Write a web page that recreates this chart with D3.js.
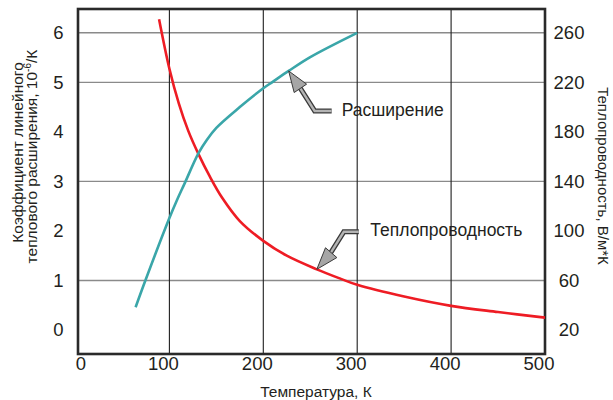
<!DOCTYPE html>
<html>
<head>
<meta charset="utf-8">
<script src="https://cdn.jsdelivr.net/npm/d3@7"></script>
<style>
  html, body { margin: 0; padding: 0; background: #fff; }
  svg { display: block; }
  text { font-family: "Liberation Sans", Arial, Helvetica, sans-serif; fill: #231f20; }
</style>
</head>
<body>
<script>
// ---- data ----
const xTicks = [0, 100, 200, 300, 400, 500];
const leftTicks = [0, 1, 2, 3, 4, 5, 6];
const rightTicks = [20, 60, 100, 140, 180, 220, 260];
const gridXValues = [100, 200, 300, 400];
const gridYValues = [1, 3, 5, 6];

// expansion coefficient, 10^-6/K (left axis)
const expT = [64, 75, 100, 108, 116, 131, 140, 150, 175, 200, 210, 227, 250, 300];
const expV = [0.46, 1.03, 2.26, 2.62, 2.95, 3.57, 3.84, 4.08, 4.50, 4.88, 5.01, 5.23, 5.51, 6.0];

// thermal conductivity, W/m*K (right axis)
const condT = [89, 100, 110, 120, 131, 143, 156, 175, 200, 225, 257, 282, 300, 350, 400, 450, 500];
const condK = [271, 231, 203, 181, 162, 144, 127, 108, 92, 80, 69, 61.5, 56.5, 47, 39.5, 34.5, 30];

const xTitle = "Температура, К";
const leftTitle1 = "Коэффициент линейного";
const leftTitle2 = "теплового расширения, 10";
const leftTitleSup = "-6";
const leftTitleEnd = "/К";
const rightTitle = "Теплопроводность, В/м*К";
const expLabel = "Расширение";
const condLabel = "Теплопроводность";
const expArrowAt = 227;
const condArrowAt = 257;

// ---- layout ----
const W = 613, H = 400;
const frame = { left: 78, right: 545, top: 9, bottom: 354 };

const svg = d3.select("body").append("svg").attr("width", W).attr("height", H);

const x = d3.scaleLinear().domain([0, 500]).range([75.5, 545]);
const yL = d3.scaleLinear().domain([0, 6]).range([330, 32.8]);
const yR = d3.scaleLinear().domain([20, 260]).range([330, 32.8]);

// grid
svg.append("g").selectAll("line").data(gridYValues).join("line")
  .attr("x1", frame.left).attr("x2", frame.right)
  .attr("y1", d => yL(d)).attr("y2", d => yL(d))
  .attr("stroke", "#8a8a8a").attr("stroke-width", 1.4);

svg.append("g").selectAll("line").data(gridXValues).join("line")
  .attr("x1", d => x(d)).attr("x2", d => x(d))
  .attr("y1", frame.top).attr("y2", frame.bottom)
  .attr("stroke", "#1e1e1e").attr("stroke-width", 1.1);

// frame
svg.append("rect")
  .attr("x", frame.left).attr("y", frame.top)
  .attr("width", frame.right - frame.left).attr("height", frame.bottom - frame.top)
  .attr("fill", "none").attr("stroke", "#2a2a2a").attr("stroke-width", 2.6);

// tick labels
svg.append("g").selectAll("text").data(xTicks).join("text")
  .attr("x", d => Math.max(x(d) - 6, frame.left + 3))
  .attr("y", 364).attr("dy", "0.35em")
  .attr("text-anchor", "middle").attr("font-size", 18.5)
  .text(d => d);

svg.append("g").selectAll("text").data(leftTicks).join("text")
  .attr("x", 58.5).attr("y", d => yL(d)).attr("dy", "0.35em")
  .attr("text-anchor", "middle").attr("font-size", 18.5)
  .text(d => d);

svg.append("g").selectAll("text").data(rightTicks).join("text")
  .attr("x", 569).attr("y", d => yR(d)).attr("dy", "0.35em")
  .attr("text-anchor", "middle").attr("font-size", 18.5)
  .text(d => d);

// axis titles
svg.append("text").attr("x", 316).attr("y", 396.5)
  .attr("text-anchor", "middle").attr("font-size", 15.5).text(xTitle);

svg.append("text")
  .attr("transform", "translate(23,152.5) rotate(-90)")
  .attr("text-anchor", "middle").attr("font-size", 15.5).text(leftTitle1);

const lt2 = svg.append("text")
  .attr("transform", "translate(36.5,156.5) rotate(-90)")
  .attr("text-anchor", "middle").attr("font-size", 15.5);
lt2.append("tspan").text(leftTitle2);
lt2.append("tspan").attr("font-size", 10).attr("dy", "-0.6em").text(leftTitleSup);
lt2.append("tspan").attr("dy", "0.4em").text(leftTitleEnd);

svg.append("text")
  .attr("transform", "translate(598,176) rotate(90)")
  .attr("text-anchor", "middle").attr("font-size", 15).text(rightTitle);

// curves
const lineExp = d3.line().x(d => x(d[0])).y(d => yL(d[1])).curve(d3.curveCatmullRom.alpha(0.5));
const lineCond = d3.line().x(d => x(d[0])).y(d => yR(d[1])).curve(d3.curveCatmullRom.alpha(0.5));

const condPath = svg.append("path").datum(d3.zip(condT, condK))
  .attr("d", lineCond).attr("fill", "none")
  .attr("stroke", "#ee1c24").attr("stroke-width", 2.6);

const expPath = svg.append("path").datum(d3.zip(expT, expV))
  .attr("d", lineExp).attr("fill", "none")
  .attr("stroke", "#3aa6a9").attr("stroke-width", 2.6);

// annotation arrows
function pointOn(path, tx) {
  const node = path.node();
  const len = node.getTotalLength();
  let lo = 0, hi = len;
  const target = x(tx);
  for (let i = 0; i < 40; i++) {
    const mid = (lo + hi) / 2;
    const p = node.getPointAtLength(mid);
    if (p.x < target) lo = mid; else hi = mid;
  }
  return node.getPointAtLength((lo + hi) / 2);
}

function drawArrow(tip, dir, headLen, halfW, shaftPts, labelPos, label) {
  const g = svg.append("g");
  const [dx, dy] = dir;
  const n = Math.hypot(dx, dy);
  const ux = dx / n, uy = dy / n;
  const px = -uy, py = ux;
  const bx = tip.x + ux * headLen, by = tip.y + uy * headLen;
  const shaft = [[bx - ux * 2, by - uy * 2]].concat(shaftPts.map(p => [tip.x + p[0], tip.y + p[1]]));
  const ln = d3.line();
  g.append("path").attr("d", ln(shaft)).attr("fill", "none")
    .attr("stroke", "#3a3a3a").attr("stroke-width", 5).attr("stroke-linejoin", "miter");
  g.append("path").attr("d", ln(shaft)).attr("fill", "none")
    .attr("stroke", "#b4b4b4").attr("stroke-width", 2.4).attr("stroke-linejoin", "miter");
  g.append("polygon")
    .attr("points", [[tip.x, tip.y], [bx + px * halfW, by + py * halfW], [bx - px * halfW, by - py * halfW]].join(" "))
    .attr("fill", "#a6a6a6").attr("stroke", "#3a3a3a").attr("stroke-width", 1);
  svg.append("text").attr("x", tip.x + labelPos[0]).attr("y", tip.y + labelPos[1])
    .attr("font-size", 17.5).text(label);
}

const tipE = pointOn(expPath, expArrowAt);
drawArrow(tipE, [0.56, 0.83], 21, 7.5, [[26, 40], [43, 40]], [53, 45.5], expLabel);

const tipC = pointOn(condPath, condArrowAt);
drawArrow(tipC, [14.3, -16.6], 22, 7.5, [[27, -37.5], [42, -37.5]], [53.5, -33], condLabel);
</script>
</body>
</html>
